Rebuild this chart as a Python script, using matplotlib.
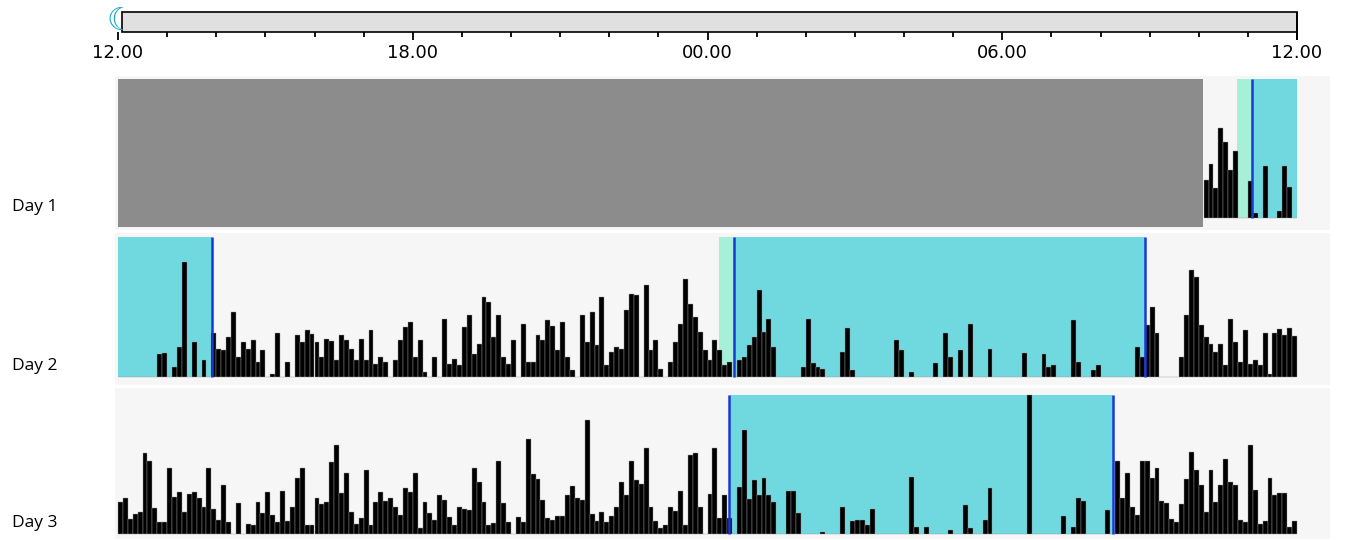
import numpy as np
import matplotlib
matplotlib.use("Agg")
import matplotlib.pyplot as plt
from matplotlib.patches import Rectangle

W, H = 1357, 540

# activity counts per 6-minute bin, starting at 12.00 (240 bins per day)
bin_h = 0.1
day1_start = 22.1   # recording starts here, earlier part is no data
day1 = [38, 54, 30, 90, 76, 48, 67, 0, 0, 37, 5, 0, 52, 0, 0, 7, 52, 31, 0]

day2 = [0, 0, 0, 0, 0, 0, 0, 0, 23, 24, 0, 10, 30, 115, 0, 35, 0, 17, 0, 44,
        28, 27, 40, 65, 20, 35, 28, 37, 15, 27, 0, 3, 44, 0, 15, 0, 42, 35, 47, 43,
        35, 20, 38, 36, 17, 42, 37, 28, 17, 38, 17, 47, 13, 20, 15, 0, 17, 37, 50, 55,
        20, 37, 5, 0, 20, 0, 58, 13, 18, 12, 50, 62, 23, 33, 80, 75, 40, 62, 20, 13,
        37, 0, 53, 15, 15, 42, 37, 57, 51, 27, 55, 20, 7, 0, 62, 35, 65, 32, 80, 12,
        25, 30, 28, 67, 83, 82, 0, 92, 27, 37, 8, 0, 15, 35, 53, 98, 73, 60, 45, 27,
        17, 37, 27, 12, 15, 0, 17, 20, 32, 40, 87, 45, 58, 30, 0, 0, 0, 0, 0, 10,
        58, 14, 10, 8, 0, 0, 0, 25, 49, 7, 0, 0, 0, 0, 0, 0, 0, 0, 37, 27,
        0, 5, 0, 0, 0, 0, 14, 0, 44, 20, 0, 27, 0, 53, 0, 0, 0, 28, 0, 0,
        0, 0, 0, 0, 24, 0, 0, 0, 23, 10, 12, 0, 0, 0, 57, 15, 0, 0, 7, 12,
        0, 0, 0, 0, 0, 0, 0, 30, 20, 52, 70, 44, 0, 0, 0, 0, 20, 62, 107, 100,
        52, 40, 33, 25, 33, 12, 58, 35, 15, 47, 13, 17, 12, 44, 3, 44, 48, 42, 49, 41]

day3 = [32, 36, 15, 20, 22, 81, 73, 26, 12, 12, 66, 37, 42, 22, 40, 42, 36, 27, 66, 25,
        14, 49, 12, 0, 31, 0, 10, 9, 32, 21, 42, 19, 12, 43, 13, 27, 56, 66, 9, 9,
        36, 30, 32, 72, 89, 41, 61, 22, 10, 16, 64, 9, 32, 42, 33, 36, 27, 19, 46, 42,
        61, 6, 32, 21, 14, 39, 34, 17, 9, 27, 25, 24, 66, 52, 32, 9, 11, 73, 31, 12,
        0, 17, 12, 95, 60, 55, 34, 16, 14, 18, 18, 39, 48, 36, 34, 114, 20, 13, 22, 12,
        18, 27, 52, 39, 73, 54, 50, 86, 27, 13, 6, 9, 27, 23, 43, 9, 79, 81, 27, 0,
        40, 86, 16, 39, 16, 0, 47, 104, 35, 54, 39, 56, 39, 32, 0, 0, 43, 43, 21, 0,
        0, 0, 0, 2, 0, 0, 0, 27, 0, 13, 14, 14, 9, 25, 0, 0, 0, 0, 0, 0,
        0, 57, 7, 0, 7, 0, 0, 0, 0, 4, 0, 0, 29, 6, 0, 0, 14, 46, 0, 0,
        0, 0, 0, 0, 0, 139, 0, 0, 0, 0, 0, 0, 18, 0, 7, 36, 33, 0, 0, 0,
        0, 24, 0, 73, 36, 61, 27, 19, 73, 73, 56, 66, 33, 31, 15, 12, 30, 55, 82, 64,
        49, 22, 64, 32, 49, 75, 52, 49, 14, 12, 89, 44, 10, 13, 56, 39, 41, 41, 7, 13]

# light periods (hours after 12.00): (dawn start, lights on, lights off)
day1_nodata = (0.0, 22.09)
day1_light = (22.77, 23.08, 24.0)
day2_light_a = (0.0, 0.0, 1.91)
day2_light_b = (12.23, 12.54, 20.9)
day3_light = (12.44, 12.44, 20.26)

tick_labels = ["12.00", "18.00", "00.00", "06.00", "12.00"]
day_labels = ["Day 1", "Day 2", "Day 3"]

cyan = "#70d9df"
mint = "#a7f0d8"
blue = "#1838d8"
panel = "#f6f6f6"

fig = plt.figure(figsize=(W / 100, H / 100), dpi=100)
fig.patch.set_facecolor("white")

px_per_h = (1297 - 118) / 24.0
x_lo = (115 - 118) / px_per_h
x_hi = (1330 - 118) / px_per_h


def add_px_axes(x0, y0, x1, y1):
    return fig.add_axes([x0 / W, 1 - y1 / H, (x1 - x0) / W, (y1 - y0) / H])


def light_period(ax, per, top):
    dawn, on, off = per
    if on > dawn:
        ax.add_patch(Rectangle((dawn, 0), on - dawn, top, color=mint, lw=0, zorder=1))
    ax.add_patch(Rectangle((on, 0), off - on, top, color=cyan, lw=0, zorder=1))
    if on > 0:
        ax.vlines(on, 0, top, color=blue, lw=1.8, zorder=3)
    else:
        ax.vlines(off, 0, top, color=blue, lw=1.8, zorder=3)
    if off < 24 and on > 0:
        ax.vlines(off, 0, top, color=blue, lw=1.8, zorder=3)


def activity(ax, t, counts):
    ax.bar(t, counts, width=bin_h, align="edge", color="black",
           edgecolor="#9a9a9a", lw=0.3, zorder=2)


# rows: (panel top, panel bottom, baseline, top of light box)
rows = [(76, 230, 218, 79), (233, 385, 377, 237), (388, 539, 534, 395)]
axes = []
for (yt, yb, base, top) in rows:
    ax = add_px_axes(115, yt, 1330, yb)
    ax.set_xlim(x_lo, x_hi)
    ax.set_ylim(-(yb - base), base - yt)
    ax.axis("off")
    ax.add_patch(Rectangle((x_lo, -(yb - base)), x_hi - x_lo, yb - yt,
                           color=panel, lw=0, zorder=0))
    axes.append((ax, base - top))

# day 1
ax, top = axes[0]
ax.add_patch(Rectangle((day1_nodata[0], -9), day1_nodata[1] - day1_nodata[0], top + 9,
                       color="#8c8c8c", lw=0, zorder=1))
light_period(ax, day1_light, top)
activity(ax, day1_start + bin_h * np.arange(len(day1)), day1)

# day 2
ax, top = axes[1]
light_period(ax, day2_light_a, top)
light_period(ax, day2_light_b, top)
activity(ax, bin_h * np.arange(len(day2)), day2)

# day 3
ax, top = axes[2]
light_period(ax, day3_light, top)
activity(ax, bin_h * np.arange(len(day3)), day3)

for lab, (yt, yb, base, top) in zip(day_labels, rows):
    fig.text(12 / W, 1 - (base - 11) / H, lab, fontsize=12.5, family="Open Sans",
             ha="left", va="center")

# time scale on top
tax = add_px_axes(100, 5, 1340, 70)
tax.set_xlim(-18 / px_per_h, 24 + 43 / px_per_h)
tax.set_ylim(70, 5)
tax.axis("off")
tax.add_patch(Rectangle((0.08, 12), 23.92, 20, facecolor="#e0e0e0",
                        edgecolor="black", lw=1.2, zorder=1))
hours = np.arange(0, 25)
for hr in hours:
    ln = 8 if hr % 6 == 0 else 5
    tax.vlines(hr, 32, 32 + ln, color="black", lw=1.3, zorder=2)
tax.vlines(24, 12, 40, color="black", lw=1.3, zorder=2)
for k, lab in enumerate(tick_labels):
    tax.text(6 * k, 53, lab, ha="center", va="center", fontsize=13,
             family="DejaVu Sans")
tax.text(0.04, 22, "\u263e", ha="center", va="center", fontsize=22,
         color="#1aa8c0", zorder=3)

fig.savefig("out.png", dpi=100)
